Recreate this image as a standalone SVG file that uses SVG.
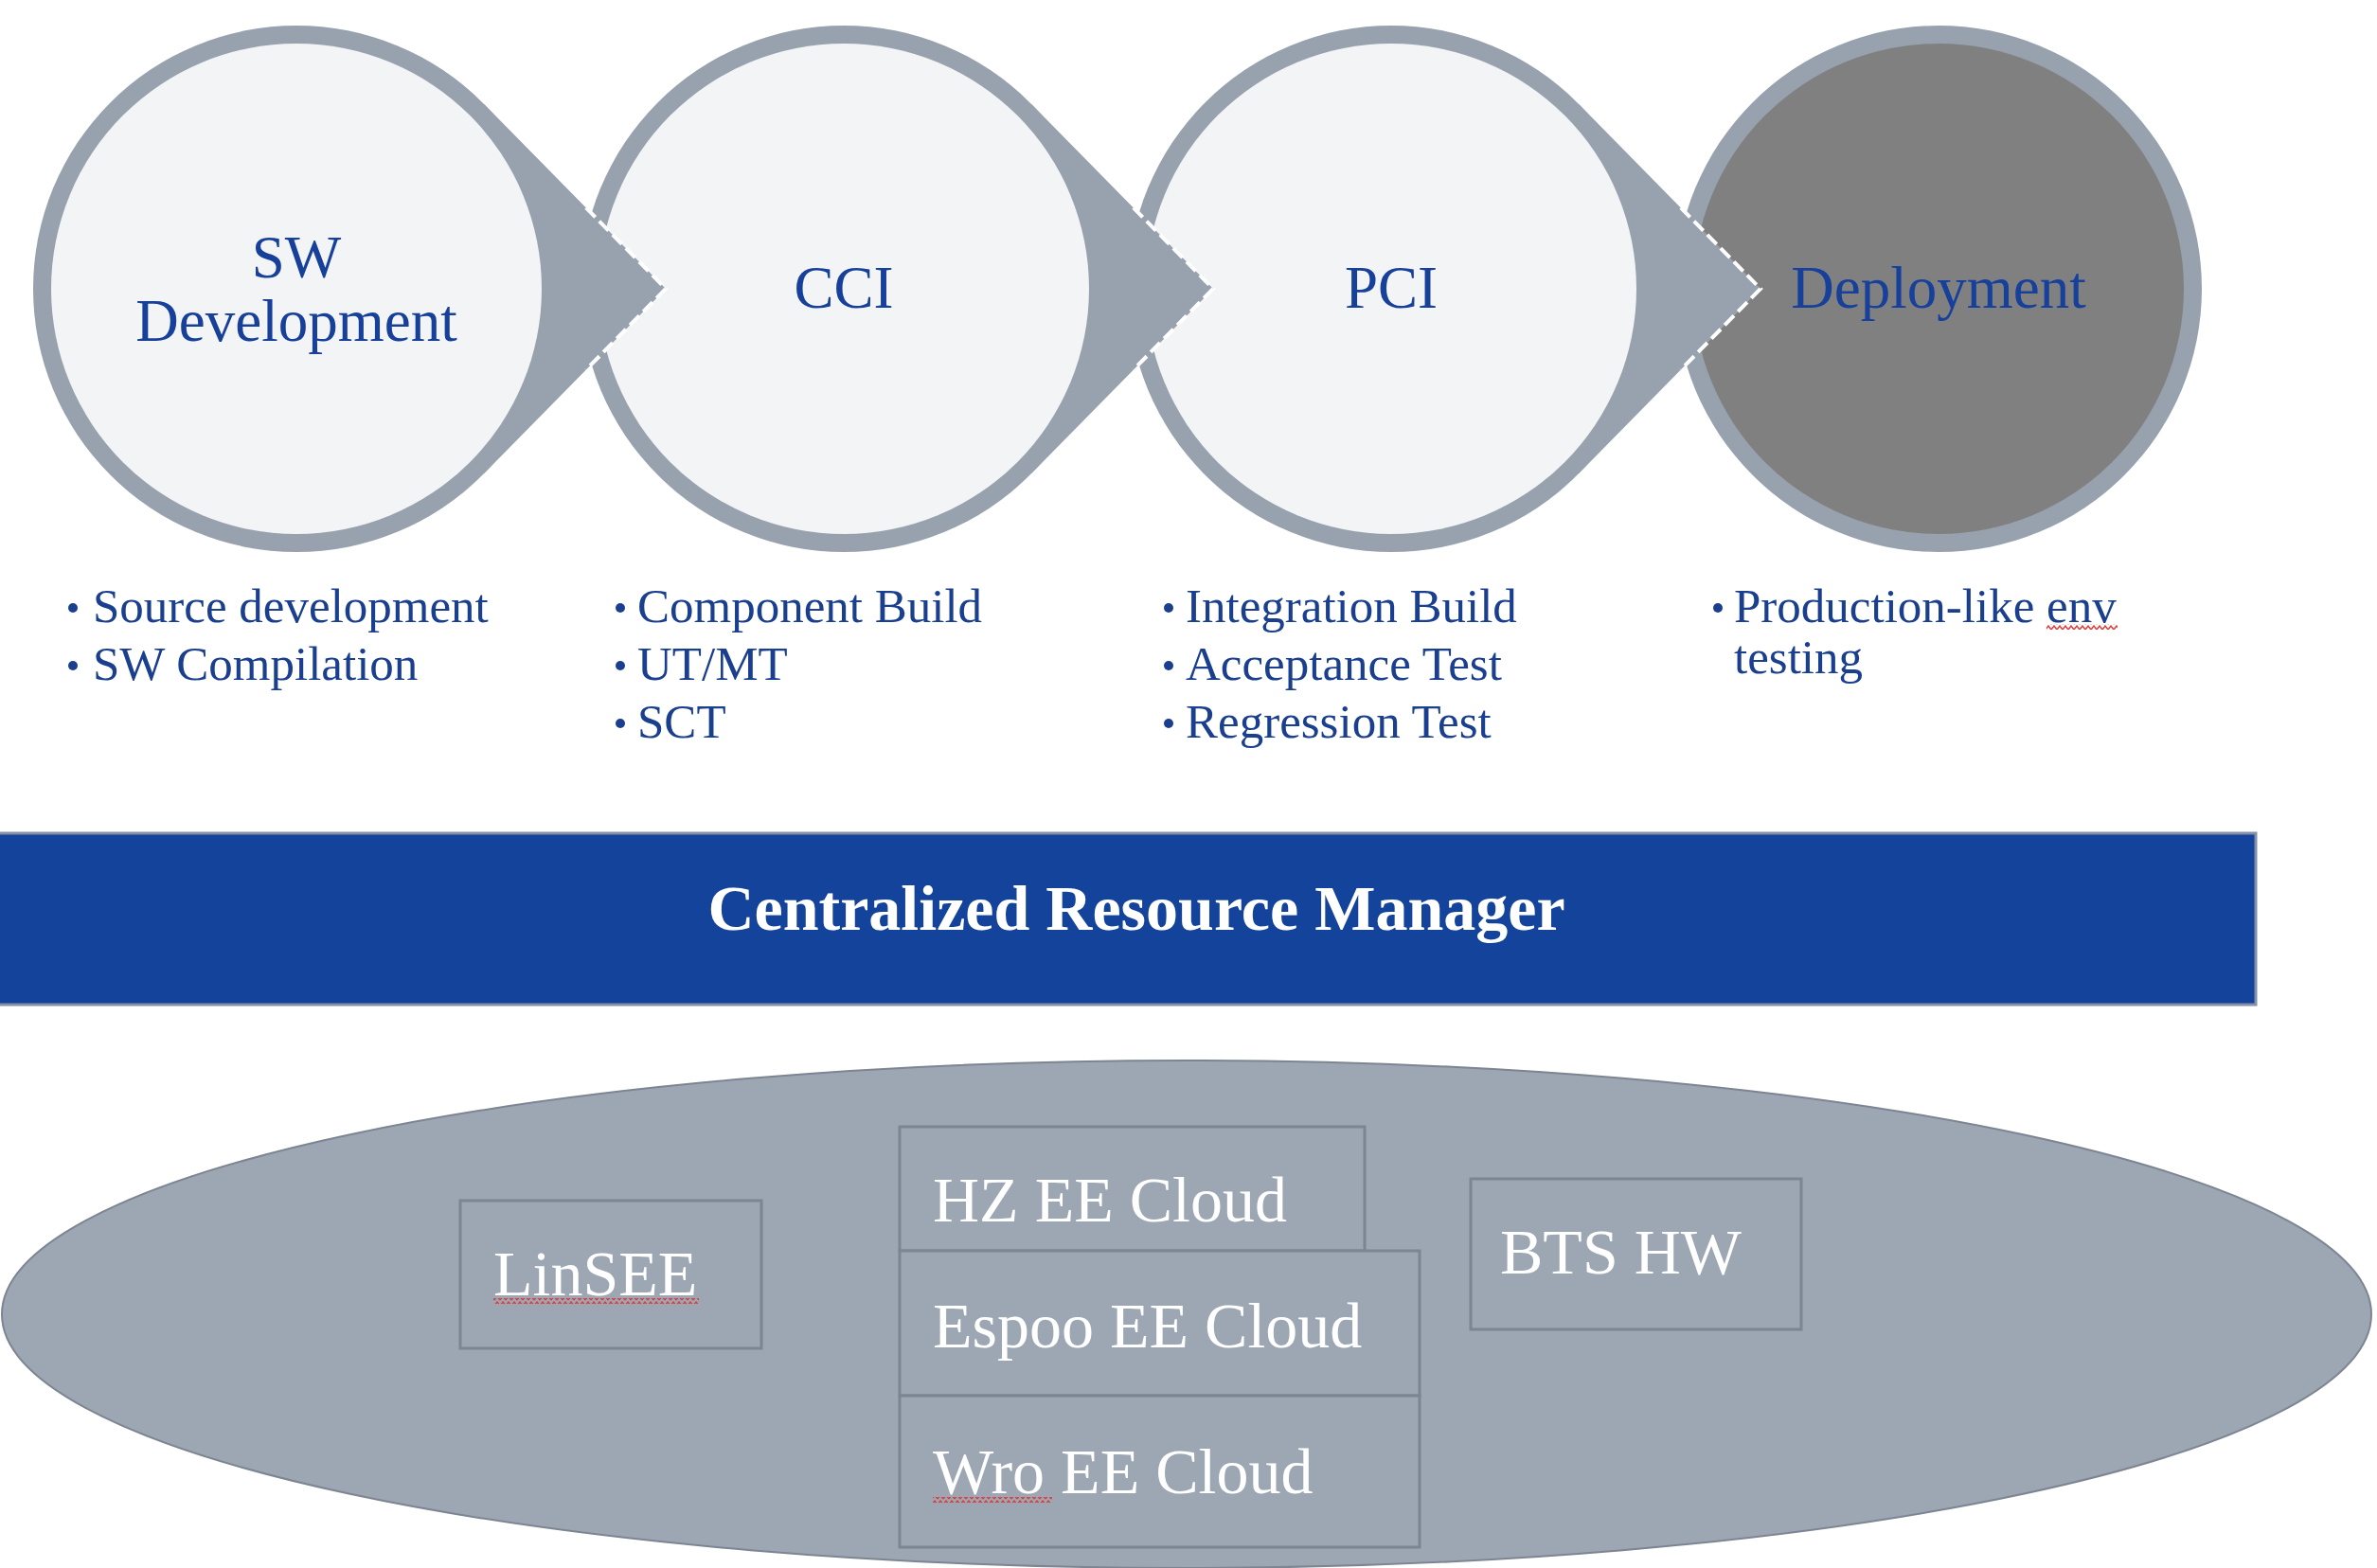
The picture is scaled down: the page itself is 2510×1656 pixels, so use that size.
<svg xmlns="http://www.w3.org/2000/svg" xmlns:xlink="http://www.w3.org/1999/xlink" width="2510" height="1656" viewBox="0 0 2510 1656">
<style>
.ring{fill:#98A2AE}
.light{fill:#F3F4F6}
.dark{fill:#808080}
.title{font-family:"Liberation Serif","Times New Roman",serif;font-size:63px;fill:#17409A;text-anchor:middle}
.bul{font-family:"Liberation Serif","Times New Roman",serif;font-size:51px;fill:#1B3F8F}
.dot{fill:#1B3F8F}
.edge{fill:none;stroke:#FFFFFF;stroke-width:4;stroke-dasharray:14 6}
.box{fill:#9DA6B3;stroke:#7C8591;stroke-width:3}
.boxt{font-family:"Liberation Serif","Times New Roman",serif;font-size:68px;fill:#FFFFFF}
.banner-t{font-family:"Liberation Serif","Times New Roman",serif;font-size:68px;font-weight:bold;fill:#FFFFFF;text-anchor:middle}
</style>
<defs>
<pattern id="squiggle" patternUnits="userSpaceOnUse" width="6" height="6">
<path d="M0 5 L3 1 L6 5" fill="none" stroke="#E03A3A" stroke-width="1.4"/>
</pattern>
<path id="arrowShape" d="M198.2 -195 L390 0 L198.2 195 L189 186 A265 265 0 0 0 189 -186 Z"/>
</defs>
<rect width="2510" height="1656" fill="#FFFFFF"/>

<g id="sw-development" transform="translate(313,305)">
<circle r="278" class="ring"/>
<circle r="259" class="light"/>
<text class="title" x="0" y="-12">SW</text>
<text class="title" x="0" y="55">Development</text>
</g>
<g id="cci" transform="translate(891,305)">
<circle r="278" class="ring"/>
<circle r="259" class="light"/>
<text class="title" x="0" y="20">CCI</text>
</g>
<g id="pci" transform="translate(1469,305)">
<circle r="278" class="ring"/>
<circle r="259" class="light"/>
<text class="title" x="0" y="20">PCI</text>
</g>
<g id="deployment" transform="translate(2047,305)">
<circle r="278" class="ring"/>
<circle r="259" class="dark"/>
<text class="title" x="0" y="20">Deployment</text>
</g>

<g id="connectors">
<g transform="translate(313,305)">
<use xlink:href="#arrowShape" class="ring"/>
<path class="edge" d="M305.8 -85.6 L390 0 L305.8 85.6"/>
</g>
<g transform="translate(891,305)">
<use xlink:href="#arrowShape" class="ring"/>
<path class="edge" d="M305.8 -85.6 L390 0 L305.8 85.6"/>
</g>
<g transform="translate(1469,305)">
<use xlink:href="#arrowShape" class="ring"/>
<path class="edge" d="M305.8 -85.6 L390 0 L305.8 85.6"/>
</g>
</g>

<g id="list-sw">
<circle class="dot" cx="77" cy="642" r="5"/>
<text class="bul" x="98" y="657">Source development</text>
<circle class="dot" cx="77" cy="703" r="5"/>
<text class="bul" x="98" y="718">SW Compilation</text>
</g>
<g id="list-cci">
<circle class="dot" cx="655" cy="642" r="5"/>
<text class="bul" x="673" y="657">Component Build</text>
<circle class="dot" cx="655" cy="703" r="5"/>
<text class="bul" x="673" y="718">UT/MT</text>
<circle class="dot" cx="655" cy="764" r="5"/>
<text class="bul" x="673" y="779">SCT</text>
</g>
<g id="list-pci">
<circle class="dot" cx="1234" cy="642" r="5"/>
<text class="bul" x="1252" y="657">Integration Build</text>
<circle class="dot" cx="1234" cy="703" r="5"/>
<text class="bul" x="1252" y="718">Acceptance Test</text>
<circle class="dot" cx="1234" cy="764" r="5"/>
<text class="bul" x="1252" y="779">Regression Test</text>
</g>
<g id="list-deployment">
<circle class="dot" cx="1814" cy="642" r="5"/>
<text class="bul" x="1831" y="657">Production-like env</text>
<text class="bul" x="1831" y="711">testing</text>
<rect x="2161" y="659" width="75" height="6" fill="url(#squiggle)"/>
</g>

<g id="resource-manager">
<rect x="-4" y="880" width="2386" height="181" fill="#13439A" stroke="#8390A6" stroke-width="3"/>
<text class="banner-t" x="1200" y="982">Centralized Resource Manager</text>
</g>

<g id="resource-pool">
<ellipse cx="1253" cy="1388" rx="1251" ry="268" fill="#9DA6B3" stroke="#7C8591" stroke-width="2"/>
</g>
<g id="linsee">
<rect class="box" x="486" y="1268" width="318" height="156"/>
<text class="boxt" x="521" y="1368">LinSEE</text>
<rect x="521" y="1371" width="217" height="6" fill="url(#squiggle)"/>
</g>
<g id="hz-ee-cloud">
<rect class="box" x="950" y="1190" width="491" height="131"/>
<text class="boxt" x="985" y="1290">HZ EE Cloud</text>
</g>
<g id="espoo-ee-cloud">
<rect class="box" x="950" y="1321" width="549" height="153"/>
<text class="boxt" x="985" y="1423">Espoo EE Cloud</text>
</g>
<g id="wro-ee-cloud">
<rect class="box" x="950" y="1474" width="549" height="160"/>
<text class="boxt" x="985" y="1577">Wro EE Cloud</text>
<rect x="985" y="1581" width="126" height="6" fill="url(#squiggle)"/>
</g>
<g id="bts-hw">
<rect class="box" x="1553" y="1245" width="349" height="159"/>
<text class="boxt" x="1584" y="1345">BTS HW</text>
</g>
</svg>
